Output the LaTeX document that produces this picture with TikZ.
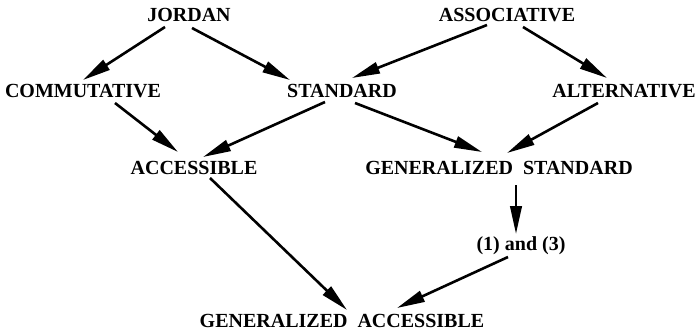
\documentclass[tikz,border=0pt]{standalone}
\usepackage{fontspec}
\setmainfont{Liberation Serif}
\usetikzlibrary{arrows.meta}
\tikzset{
  lbl/.style={inner sep=0pt, anchor=center, font=\fontsize{20}{22}\selectfont\bfseries},
  arr/.style={line width=2.6pt, -{Triangle[length=28pt,width=11.5pt]}}
}
\begin{document}
\begin{tikzpicture}[x=1pt,y=-1pt]
\useasboundingbox (0,0) rectangle (699,332);
\node[lbl] (jordan) at (189,15) {JORDAN};
\node[lbl] (assoc) at (507,15) {ASSOCIATIVE};
\node[lbl] (comm) at (83,91) {COMMUTATIVE};
\node[lbl] (std) at (342,91) {STANDARD};
\node[lbl] (alt) at (624,91) {ALTERNATIVE};
\node[lbl] (acc) at (194,168) {ACCESSIBLE};
\node[lbl] (gstd) at (499,168) {GENERALIZED\ \ STANDARD};
\node[lbl] (oneth) at (521,246) {(1) and (3)};
\node[lbl] (gacc) at (342,321) {GENERALIZED\ \ ACCESSIBLE};

\draw[arr] ([shift={(-24,12)}]jordan.center) -- ([shift={(0,-11)}]comm.center);
\draw[arr] ([shift={(3,13)}]jordan.center) -- ([shift={(-52,-11)}]std.center);
\draw[arr] ([shift={(32,12)}]comm.center) -- ([shift={(-16,-16)}]acc.center);
\draw[arr] ([shift={(-17,11)}]std.center) -- ([shift={(9,-11)}]acc.center);
\draw[arr] ([shift={(-20,10)}]assoc.center) -- ([shift={(10,-13)}]std.center);
\draw[arr] ([shift={(16,12)}]assoc.center) -- ([shift={(-17,-13)}]alt.center);
\draw[arr] ([shift={(13,12)}]std.center) -- ([shift={(-17,-16)}]gstd.center);
\draw[arr] ([shift={(-26,12)}]alt.center) -- ([shift={(8,-15)}]gstd.center);
\draw[arr] ([shift={(17,17)}]gstd.center) -- ([shift={(-5,-12)}]oneth.center);
\draw[arr] ([shift={(16,10)}]acc.center) -- ([shift={(5,-11)}]gacc.center);
\draw[arr] ([shift={(-13,11)}]oneth.center) -- ([shift={(55,-13)}]gacc.center);
\end{tikzpicture}
\end{document}
